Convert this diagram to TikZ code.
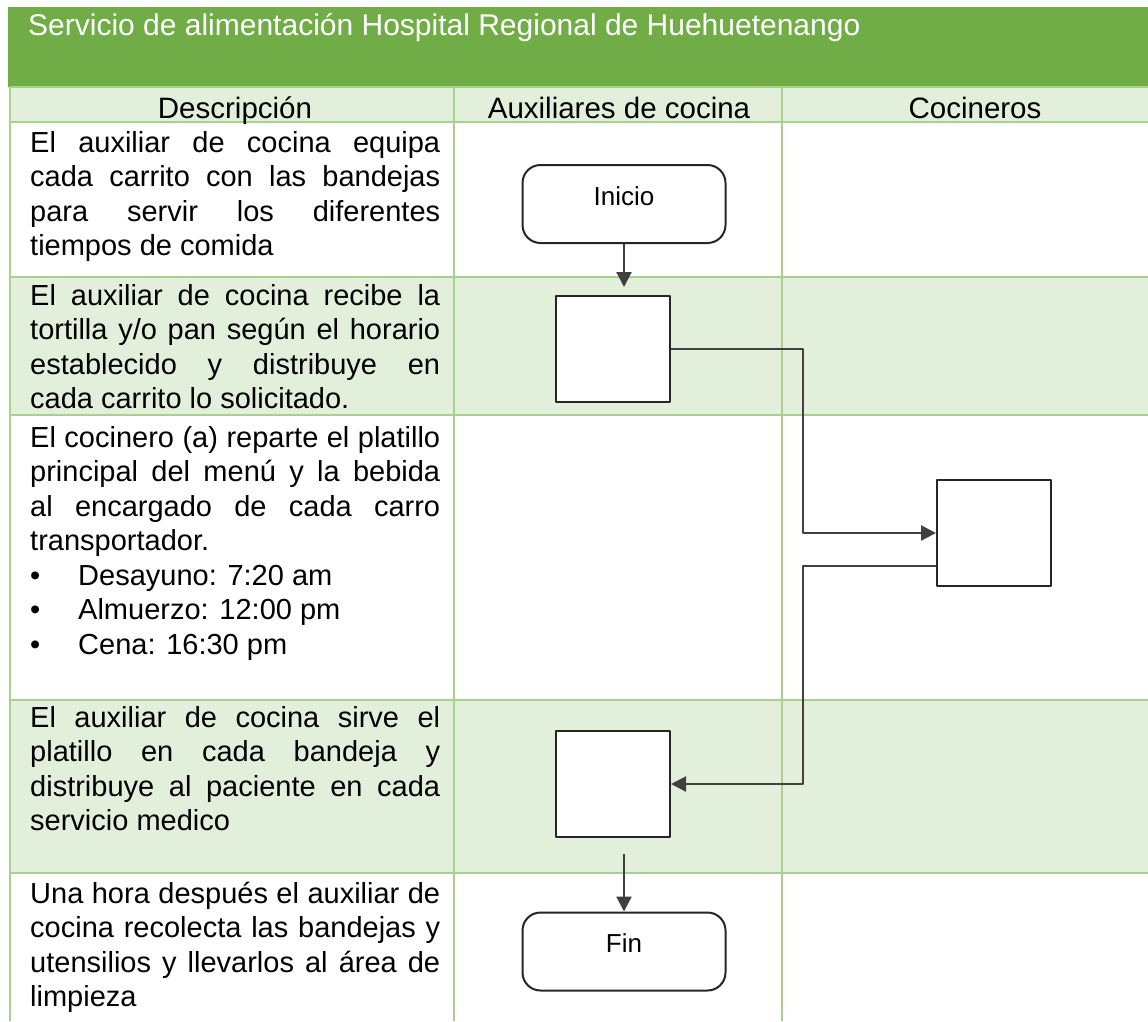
\documentclass[tikz,border=0pt]{standalone}
\usepackage{fontspec}
\setmainfont{Liberation Sans}
\usetikzlibrary{arrows.meta}
\definecolor{hdrgreen}{HTML}{70AD47}
\definecolor{rowgreen}{HTML}{E2EFDA}
\definecolor{gridgreen}{HTML}{A9D08E}
\setlength{\parindent}{0pt}
\begin{document}
\begin{tikzpicture}[x=1pt, y=-1pt, line join=round,
  grid/.style={draw=gridgreen, line width=1.5pt},
  terminal/.style={draw=black!85, fill=white, line width=2pt, rounded corners=18pt,
    minimum width=203pt, minimum height=78pt, text height=18pt, text depth=16pt,
    font=\fontsize{26}{30}\selectfont},
  proc/.style={draw=black!85, fill=white, line width=2pt, minimum width=114pt, minimum height=106pt},
  flow/.style={-{Triangle[length=15pt,width=15pt]}, line width=2.2pt, draw=black!75},
  desc/.style={anchor=north west, inner sep=0pt, text width=410pt, align=justify,
    font=\fontsize{29}{34.5}\selectfont},
  head/.style={anchor=base, inner sep=0pt, font=\fontsize{29.5}{35}\selectfont}]
\useasboundingbox (0,0) rectangle (1148,1021);

\fill[hdrgreen] (8,7) rectangle (1148,87);
\foreach \ya/\yb in {87/122, 277/415, 700/873}
    \fill[rowgreen] (10,\ya) rectangle (1148,\yb);
\foreach \yy in {87,122,277,415,700,873}
    \draw[grid] (10,\yy) -- (1148,\yy);
\foreach \xx in {10,454,782}
    \draw[grid] (\xx,87) -- (\xx,1021);

\node[anchor=base west, inner sep=0pt, text=white, font=\fontsize{30}{35}\selectfont] (title) at (28,35)
    {Servicio de alimentación Hospital Regional de Huehuetenango};
\node[head] (hdesc) at (235,118) {Descripción};
\node[head] (haux) at (619,118) {Auxiliares de cocina};
\node[head] (hcoc) at (975,118) {Cocineros};

\node[desc] (d1) at (30,127.8) {\strut El auxiliar de cocina equipa\linebreak
    cada carrito con las bandejas\linebreak para servir los diferentes\linebreak tiempos de comida};
\node[desc] (d2) at (30,280.8) {\strut El auxiliar de cocina recibe la\linebreak
    tortilla y/o pan según el horario\linebreak establecido y distribuye en\linebreak cada carrito lo solicitado.};
\node[desc] (d3) at (30,422.8) {\strut El cocinero (a) reparte el platillo\linebreak
    principal del menú y la bebida\linebreak al encargado de cada carro\linebreak transportador.\par
    \makebox[48pt][l]{\textbullet}Desayuno: 7:20 am\par
    \makebox[48pt][l]{\textbullet}Almuerzo: 12:00 pm\par
    \makebox[48pt][l]{\textbullet}Cena: 16:30 pm};
\node[desc] (d4) at (30,702.8) {\strut El auxiliar de cocina sirve el\linebreak
    platillo en cada bandeja y\linebreak distribuye al paciente en cada\linebreak servicio medico};
\node[desc] (d5) at (30,878.8) {\strut Una hora después el auxiliar de\linebreak
    cocina recolecta las bandejas y\linebreak utensilios y llevarlos al área de\linebreak limpieza};

\node[terminal] (inicio) at (624,204) {Inicio};
\node[proc] (p1) at (613,349) {};
\node[proc] (p2) at (994,533) {};
\node[proc] (p3) at (613,784) {};
\node[terminal] (fin) at (624,951.5) {Fin};
\coordinate (bus) at (803,0);

\draw[flow, shorten >=8pt] (inicio.south) -- (inicio.south |- p1.north);
\draw[flow] (p1.east) -- (p1.east -| bus) |- (p2.west);
\draw[flow] ([yshift=-33pt]p2.west) -| (bus |- p3.east) -- (p3.east);
\draw[flow] ([yshift=-16pt]fin.north |- p3.south) -- (fin.north);
\end{tikzpicture}
\end{document}
